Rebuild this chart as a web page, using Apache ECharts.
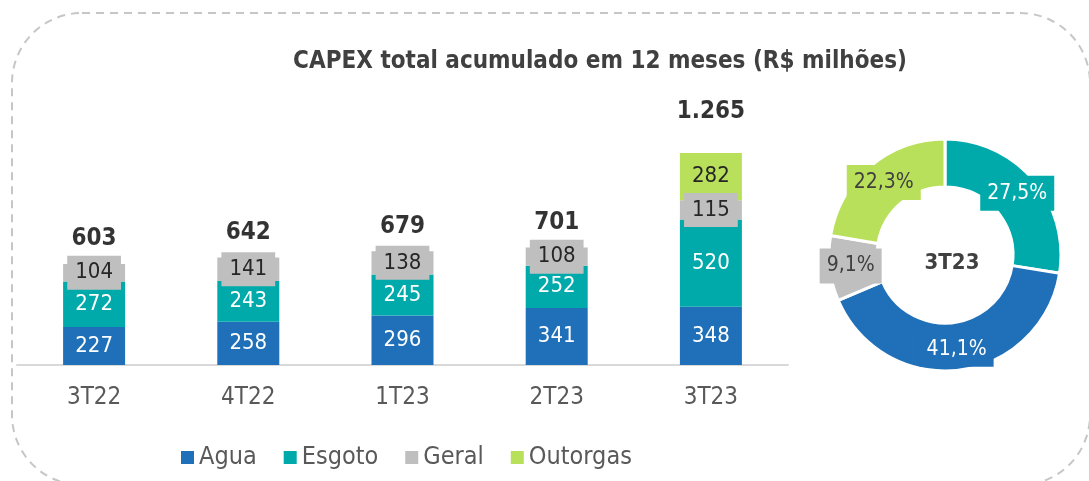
<!DOCTYPE html>
<html>
<head>
<meta charset="utf-8">
<script src="https://cdn.jsdelivr.net/npm/echarts@6/dist/echarts.min.js"></script>
<style>
  html, body { margin: 0; padding: 0; background: #fff; }
  #chart { width: 1089px; height: 481px; }
</style>
</head>
<body>
<div id="chart"></div>
<script>
var categories = ['3T22', '4T22', '1T23', '2T23', '3T23'];
var agua = [227, 258, 296, 341, 348];
var esgoto = [272, 243, 245, 252, 520];
var geral = [104, 141, 138, 108, 115];
var outorgas = ['-', '-', '-', '-', 282];
var totals = [603, 642, 679, 701, 1265];

var pieNames = ['Esgoto', 'Agua', 'Geral', 'Outorgas'];
var pieValues = [27.5, 41.1, 9.1, 22.3];
var pieCenterLabel = '3T23';

var font = '"DejaVu Sans Condensed", "DejaVu Sans"';
var colors = {
  Agua: '#1f70b8',
  Esgoto: '#00aaaa',
  Geral: '#bfbfbf',
  Outorgas: '#b9e05a'
};

function fmtPt(v) {
  return String(v).replace(/\B(?=(\d{3})+(?!\d))/g, '.');
}

var chart = echarts.init(document.getElementById('chart'));

var segLabel = {
  show: true,
  position: 'inside',
  color: '#fff',
  fontFamily: font,
  fontSize: 22
};

chart.setOption({
  backgroundColor: '#fff',
  animation: false,
  textStyle: { fontFamily: font },
  title: [{
    text: 'CAPEX total acumulado em 12 meses (R$ milhões)',
    left: 595,
    top: 45,
    textAlign: 'center',
    textStyle: { color: '#404040', fontSize: 24, fontWeight: 'bold', fontFamily: font }
  }, {
    text: pieCenterLabel,
    left: 947,
    top: 247,
    textAlign: 'center',
    textStyle: { color: '#404040', fontSize: 22, fontWeight: 'bold', fontFamily: font }
  }],
  graphic: [{
    type: 'rect',
    shape: { x: 12, y: 13, width: 1078, height: 472, r: 70 },
    style: { fill: 'none', stroke: '#c6c6c6', lineWidth: 2, lineDash: [8, 6] },
    silent: true,
    z: -1
  }],
  legend: {
    left: 176,
    top: 440,
    itemWidth: 13,
    itemHeight: 13,
    itemGap: 27,
    icon: 'rect',
    data: ['Agua', 'Esgoto', 'Geral', 'Outorgas'],
    textStyle: { color: '#595959', fontSize: 25, fontFamily: font }
  },
  grid: { left: 17, right: 301, top: 97, bottom: 116 },
  xAxis: {
    type: 'category',
    data: categories,
    axisLine: { lineStyle: { color: '#d9d9d9', width: 2 } },
    axisTick: { show: false },
    axisLabel: { color: '#595959', fontSize: 24, margin: 21, fontFamily: font }
  },
  yAxis: {
    type: 'value',
    min: 0,
    max: 1600,
    show: false
  },
  series: [{
    name: 'Agua',
    type: 'bar',
    stack: 'capex',
    barWidth: 62,
    data: agua,
    itemStyle: { color: colors.Agua },
    label: segLabel
  }, {
    name: 'Esgoto',
    type: 'bar',
    stack: 'capex',
    data: esgoto,
    itemStyle: { color: colors.Esgoto },
    label: segLabel
  }, {
    name: 'Geral',
    type: 'bar',
    stack: 'capex',
    data: geral,
    itemStyle: { color: colors.Geral },
    label: Object.assign({}, segLabel, {
      color: '#262626',
      backgroundColor: colors.Geral,
      padding: [5, 8, 5, 8],
      lineHeight: 24
    })
  }, {
    name: 'Outorgas',
    type: 'bar',
    stack: 'capex',
    data: outorgas,
    itemStyle: { color: colors.Outorgas },
    label: Object.assign({}, segLabel, { color: '#262626' })
  }, {
    name: 'Total',
    type: 'scatter',
    symbolSize: 0,
    silent: true,
    data: totals.map(function (v, i) {
      return i === totals.length - 1
        ? { value: v, label: { distance: 29 } }
        : v;
    }),
    label: {
      show: true,
      position: 'top',
      distance: 13,
      color: '#000',
      fontSize: 24,
      fontWeight: 'bold',
      fontFamily: font,
      formatter: function (p) { return fmtPt(p.value); }
    }
  }, {
    name: 'Mix',
    type: 'pie',
    center: [945, 255],
    radius: [68, 116],
    startAngle: 90,
    clockwise: true,
    silent: true,
    itemStyle: { borderColor: '#fff', borderWidth: 3 },
    data: pieNames.map(function (n, i) {
      var dark = n === 'Geral' || n === 'Outorgas';
      return {
        name: n,
        value: pieValues[i],
        itemStyle: { color: colors[n] },
        label: {
          color: dark ? '#404040' : '#fff',
          backgroundColor: colors[n]
        }
      };
    }),
    label: {
      show: true,
      position: 'inside',
      fontSize: 21,
      fontFamily: font,
      padding: [7, 7, 7, 7],
      formatter: function (p) { return String(p.value).replace('.', ',') + '%'; }
    },
    labelLine: { show: false }
  }]
});
</script>
</body>
</html>
